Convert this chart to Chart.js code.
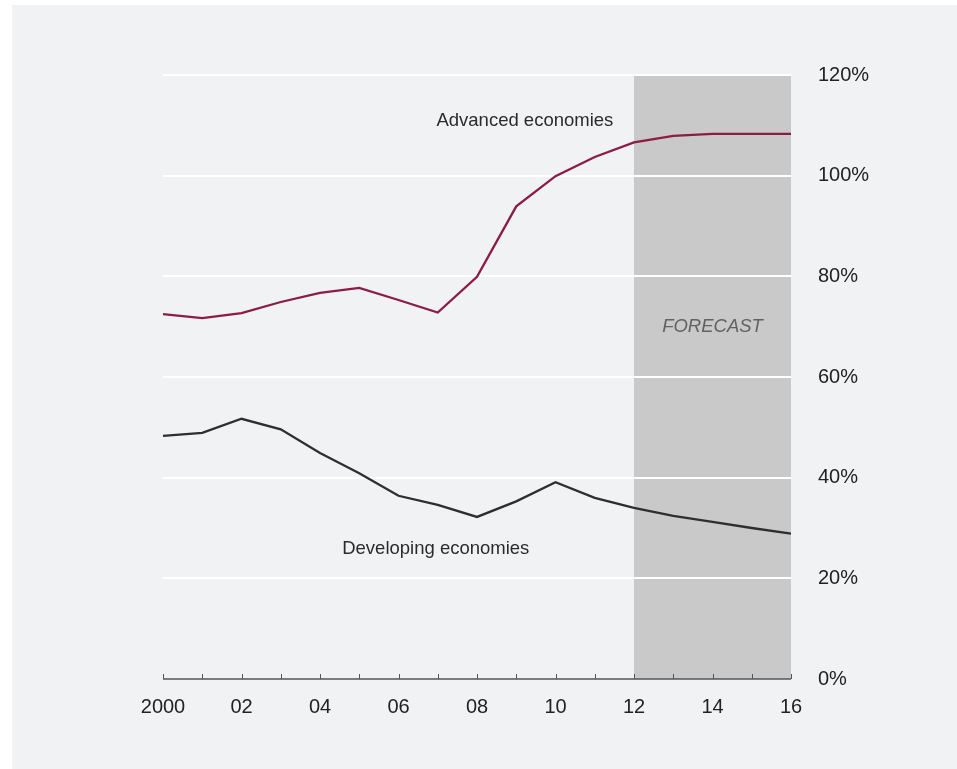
<!DOCTYPE html>
<html>
<head>
<meta charset="utf-8">
<script src="https://cdn.jsdelivr.net/npm/chart.js@4"></script>
<style>
  html, body { margin: 0; padding: 0; background: #ffffff; }
  #panel { position: absolute; left: 12px; top: 5px; width: 945px; height: 764px; background: #f1f2f4; }
  canvas { display: block; }
</style>
</head>
<body>
<div id="panel"><canvas id="c" width="945" height="764"></canvas></div>
<script>
// ---- data ----
const years = [2000,2001,2002,2003,2004,2005,2006,2007,2008,2009,2010,2011,2012,2013,2014,2015,2016];
const advanced = [72.5, 71.7, 72.7, 74.9, 76.7, 77.7, 75.3, 72.8, 79.9, 93.9, 99.9, 103.7, 106.6, 107.9, 108.3, 108.3, 108.3];
const developing = [48.3, 48.9, 51.7, 49.6, 44.9, 40.9, 36.4, 34.6, 32.2, 35.3, 39.1, 36.0, 34.0, 32.4, 31.2, 30.0, 28.9];
const xTickLabels = ['2000','02','04','06','08','10','12','14','16'];
const yTickValues = [0, 20, 40, 60, 80, 100, 120];
const forecastStart = 2012;
const forecastEnd = 2016;
const seriesLabels = [
  { text: 'Advanced economies', x: 2009.22, y: 109.9 },
  { text: 'Developing economies', x: 2006.95, y: 24.8 }
];
const forecastLabel = { text: 'FORECAST', x: 2014, y: 68.9 };

const FONT = '"Liberation Sans", Arial, Helvetica, sans-serif';

const bandPlugin = {
  id: 'band',
  beforeDraw(chart) {
    const { ctx, chartArea, scales } = chart;
    const x0 = scales.x.getPixelForValue(forecastStart);
    const x1 = scales.x.getPixelForValue(forecastEnd);
    ctx.save();
    ctx.fillStyle = '#c9c9c9';
    ctx.fillRect(x0, chartArea.top, x1 - x0, chartArea.bottom - chartArea.top);
    ctx.restore();
  }
};

const axisPlugin = {
  id: 'axisAndText',
  afterDatasetsDraw(chart) {
    const { ctx, chartArea, scales } = chart;
    const xs = scales.x, ys = scales.y;
    const yb = ys.getPixelForValue(0);
    ctx.save();
    ctx.strokeStyle = '#555555';
    ctx.lineWidth = 1.5;
    ctx.beginPath();
    ctx.moveTo(xs.getPixelForValue(years[0]), yb);
    ctx.lineTo(xs.getPixelForValue(years[years.length - 1]), yb);
    ctx.stroke();
    ctx.lineWidth = 1;
    years.forEach(yr => {
      const px = Math.round(xs.getPixelForValue(yr)) + 0.5;
      ctx.beginPath();
      ctx.moveTo(px, yb);
      ctx.lineTo(px, yb - 5);
      ctx.stroke();
    });
    // series labels
    ctx.fillStyle = '#2b2b2b';
    ctx.font = '18.5px ' + FONT;
    ctx.textAlign = 'center';
    ctx.textBaseline = 'alphabetic';
    seriesLabels.forEach(l => {
      ctx.fillText(l.text, xs.getPixelForValue(l.x), ys.getPixelForValue(l.y));
    });
    ctx.fillStyle = '#626262';
    ctx.font = 'italic 18.5px ' + FONT;
    ctx.fillText(forecastLabel.text, xs.getPixelForValue(forecastLabel.x), ys.getPixelForValue(forecastLabel.y));
    ctx.restore();
  }
};

new Chart(document.getElementById('c'), {
  type: 'line',
  data: {
    labels: years,
    datasets: [
      { label: 'Advanced economies', data: years.map((y, i) => ({ x: y, y: advanced[i] })),
        borderColor: '#8c1c40', borderWidth: 2.3, pointRadius: 0, tension: 0, fill: false },
      { label: 'Developing economies', data: years.map((y, i) => ({ x: y, y: developing[i] })),
        borderColor: '#2e2e2e', borderWidth: 2.3, pointRadius: 0, tension: 0, fill: false }
    ]
  },
  options: {
    responsive: false,
    animation: false,
    devicePixelRatio: 1,
    layout: { padding: { left: 151, top: 70, right: 76, bottom: 40 } },
    plugins: { legend: { display: false }, tooltip: { enabled: false } },
    scales: {
      x: {
        type: 'linear', min: 2000, max: 2016,
        afterFit(s) { s.height = 50; },
        grid: { display: false, drawTicks: false },
        border: { display: false },
        ticks: {
          stepSize: 2, autoSkip: false, maxRotation: 0, padding: 16,
          color: '#222222', font: { family: FONT, size: 20 },
          callback: (v, i) => xTickLabels[i]
        }
      },
      y: {
        position: 'right', min: 0, max: 120,
        afterFit(s) { s.width = 90; },
        afterBuildTicks(s) { s.ticks = yTickValues.map(v => ({ value: v })); },
        grid: {
          drawTicks: false, lineWidth: 2,
          color: c => (c.tick && c.tick.value === 0) ? 'rgba(0,0,0,0)' : '#ffffff'
        },
        border: { display: false },
        ticks: {
          padding: 27, color: '#222222', font: { family: FONT, size: 20 },
          callback: v => v + '%'
        }
      }
    }
  },
  plugins: [bandPlugin, axisPlugin]
});
</script>
</body>
</html>
